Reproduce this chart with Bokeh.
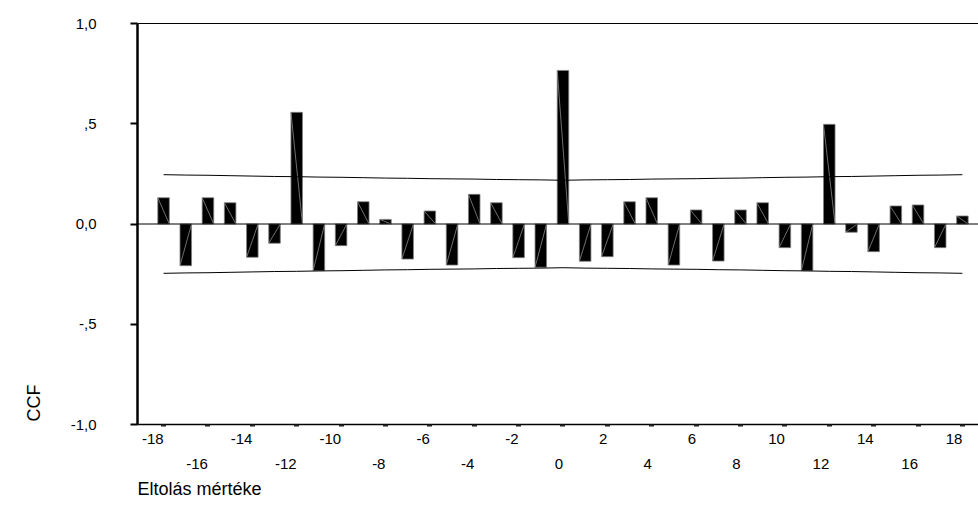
from bokeh.plotting import figure
from bokeh.models import (Range1d, LinearAxis, FixedTicker, Span, Title,
                          ColumnDataSource)
from bokeh.embed import file_html
from bokeh.resources import INLINE

# ---------------- data ----------------
lags = list(range(-18, 19))
ccf = [0.131, -0.208, 0.131, 0.106, -0.166, -0.096, 0.557, -0.233, -0.108,
       0.111, 0.023, -0.175, 0.065, -0.205, 0.148, 0.106, -0.168, -0.216,
       0.766, -0.186, -0.163, 0.111, 0.131, -0.205, 0.070, -0.185, 0.070,
       0.106, -0.118, -0.233, 0.497, -0.041, -0.138, 0.090, 0.095, -0.118,
       0.040]
upper = [0.246, 0.244, 0.243, 0.241, 0.239, 0.237, 0.236, 0.234, 0.233,
         0.231, 0.229, 0.228, 0.226, 0.225, 0.224, 0.222, 0.221, 0.220,
         0.218, 0.220, 0.221, 0.222, 0.224, 0.225, 0.226, 0.228, 0.229,
         0.231, 0.233, 0.234, 0.236, 0.237, 0.239, 0.241, 0.243, 0.244,
         0.246]
lower = [-0.246, -0.244, -0.243, -0.241, -0.239, -0.237, -0.236, -0.234, -0.233,
         -0.231, -0.229, -0.228, -0.226, -0.225, -0.224, -0.222, -0.221, -0.220,
         -0.218, -0.220, -0.221, -0.222, -0.224, -0.225, -0.226, -0.228, -0.229,
         -0.231, -0.233, -0.234, -0.236, -0.237, -0.239, -0.241, -0.243, -0.244,
         -0.246]
tick_lags = list(range(-18, 19, 2))
row1_lags = [-18, -14, -10, -6, -2, 2, 6, 10, 14, 18]
row2_lags = [-16, -12, -8, -4, 0, 4, 8, 12, 16]
y_ticks = [-1.0, -0.5, 0.0, 0.5, 1.0]
y_tick_labels = ["-1,0", "-,5", "0,0", ",5", "1,0"]
x_title = "Eltolás mértéke"
y_title = "CCF"

# ---------------- style ----------------
FONT = "Liberation Sans"
TICK_FS = 15
LAG_PX = 22.19          # pixels per lag unit
BAR_W = 0.52
X_LO, X_HI = -19.175, 18.725

def text_w(s):
    widths = {"-": 0.333, ",": 0.278}
    return sum(widths.get(c, 0.556) for c in s) * TICK_FS

p = figure(width=978, height=527,
           x_range=Range1d(X_LO, X_HI), y_range=Range1d(-1.0, 1.0),
           output_backend="svg", toolbar_location=None,
           x_axis_location=None, y_axis_location=None,
           min_border_left=137, min_border_right=0,
           min_border_top=23, min_border_bottom=103)
p.outline_line_color = None
p.grid.grid_line_color = None
p.background_fill_color = "white"
p.border_fill_color = "white"

# zero line
p.add_layout(Span(location=0, dimension="width", line_color="black",
                  line_width=1))

# bars
src = ColumnDataSource(dict(
    x=lags, top=ccf,
    x0=[l - BAR_W / 2 for l in lags], x1=[l + BAR_W / 2 for l in lags],
    y0=ccf, y1=[0] * len(lags)))
p.vbar(x="x", top="top", bottom=0, width=BAR_W, source=src,
       fill_color="black", line_color="#808080", line_width=0.8)
p.segment(x0="x0", y0="y0", x1="x1", y1="y1", source=src,
          line_color="#8a8a8a", line_width=0.8)

# confidence limits
p.line(lags, upper, line_color="black", line_width=1)
p.line(lags, lower, line_color="black", line_width=1)

# top border
top_ax = LinearAxis(ticker=FixedTicker(ticks=[]), axis_line_width=1,
                    major_tick_line_color=None, minor_tick_line_color=None,
                    major_tick_out=0, major_tick_in=0,
                    major_label_text_color=None, major_label_standoff=0)
p.add_layout(top_ax, "above")

# y axis
yax = LinearAxis(ticker=FixedTicker(ticks=y_ticks),
                 major_label_overrides={t: s for t, s in zip(y_ticks, y_tick_labels)},
                 axis_line_width=2.5, axis_line_color="black",
                 major_tick_line_width=2, major_tick_out=7, major_tick_in=0,
                 minor_tick_line_color=None,
                 major_label_standoff=34,
                 major_label_text_font=FONT,
                 major_label_text_font_size=f"{TICK_FS}px",
                 major_label_text_color="black")
p.add_layout(yax, "left")

# x axis: line + tick marks only
xax = LinearAxis(ticker=FixedTicker(ticks=tick_lags),
                 axis_line_width=1.5, axis_line_color="black",
                 major_tick_line_width=5, major_tick_out=2, major_tick_in=0,
                 major_tick_line_color="#222222",
                 minor_tick_line_color=None,
                 major_label_text_color=None,
                 major_label_text_font_size="1px", major_label_standoff=0)
p.add_layout(xax, "below")

def label_axis(lag_list, standoff):
    # labels right-aligned to their tick positions
    pos = [l - text_w(str(l)) / 2 / LAG_PX for l in lag_list]
    ax = LinearAxis(ticker=FixedTicker(ticks=pos),
                    major_label_overrides={q: str(l) for q, l in zip(pos, lag_list)},
                    axis_line_color=None, major_tick_line_color=None,
                    minor_tick_line_color=None,
                    major_tick_out=0, major_tick_in=0,
                    major_label_standoff=standoff,
                    major_label_text_font=FONT,
                    major_label_text_font_size=f"{TICK_FS}px",
                    major_label_text_color="black")
    return ax

p.add_layout(label_axis(row1_lags, 7), "below")
p.add_layout(label_axis(row2_lags, 12), "below")

p.add_layout(Title(text=x_title, align="left", standoff=10,
                   text_font=FONT, text_font_size="18px",
                   text_font_style="normal", text_color="black"), "below")

# y axis title, bottom-justified and near the left edge like the original
p.add_layout(Title(text=y_title, align="left", vertical_align="top",
                   offset=3, standoff=44,
                   text_font=FONT, text_font_size="18px",
                   text_font_style="normal", text_color="black"), "left")

open("out.html", "w").write(file_html(p, INLINE))
